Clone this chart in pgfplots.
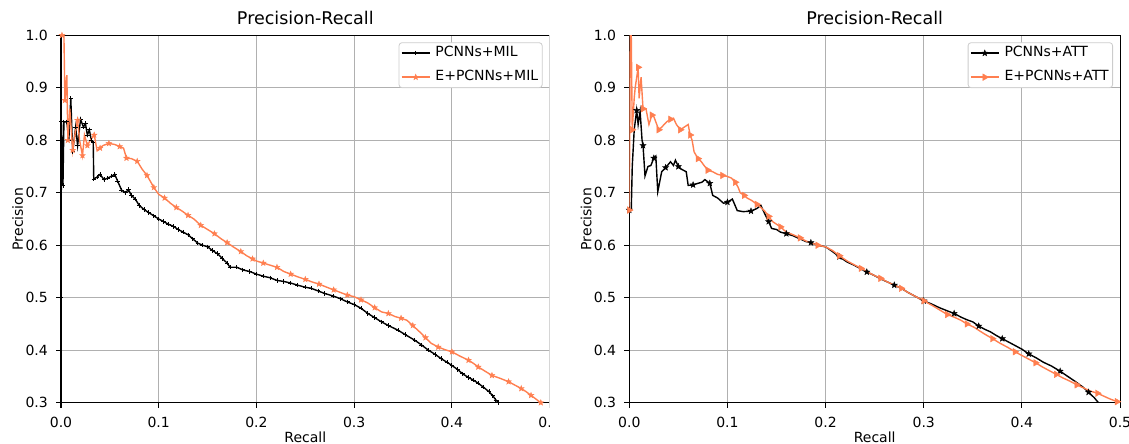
\documentclass[border=0pt]{standalone}
\usepackage{fontspec}
\setmainfont{DejaVu Sans}
\usepackage{pgfplots}
\pgfplotsset{compat=1.18}
\definecolor{coral}{RGB}{255,127,80}
\definecolor{gridc}{RGB}{176,176,176}
\pgfdeclareplotmark{fstar}{%
  \pgfpathmoveto{\pgfpointpolar{90}{\pgfplotmarksize}}%
  \pgfpathlineto{\pgfpointpolar{126}{0.42\pgfplotmarksize}}%
  \pgfpathlineto{\pgfpointpolar{162}{\pgfplotmarksize}}%
  \pgfpathlineto{\pgfpointpolar{198}{0.42\pgfplotmarksize}}%
  \pgfpathlineto{\pgfpointpolar{234}{\pgfplotmarksize}}%
  \pgfpathlineto{\pgfpointpolar{270}{0.42\pgfplotmarksize}}%
  \pgfpathlineto{\pgfpointpolar{306}{\pgfplotmarksize}}%
  \pgfpathlineto{\pgfpointpolar{342}{0.42\pgfplotmarksize}}%
  \pgfpathlineto{\pgfpointpolar{18}{\pgfplotmarksize}}%
  \pgfpathlineto{\pgfpointpolar{54}{0.42\pgfplotmarksize}}%
  \pgfpathclose
  \pgfusepathqfillstroke}

\pgfplotstableread{
r p
0.000 0.500
0.0005 0.835
0.002 0.714
0.003 0.835
0.006 0.835
0.008 0.800
0.010 0.880
0.012 0.778
0.015 0.825
0.017 0.790
0.020 0.840
0.023 0.825
0.025 0.832
0.027 0.810
0.029 0.820
0.031 0.800
0.033 0.795
0.0335 0.726
0.037 0.730
0.040 0.735
0.044 0.725
0.048 0.728
0.052 0.732
0.055 0.735
0.058 0.722
0.062 0.705
0.066 0.700
0.069 0.706
0.072 0.695
0.076 0.688
0.080 0.676
0.085 0.668
0.090 0.662
0.095 0.656
0.100 0.650
0.105 0.645
0.110 0.640
0.115 0.636
0.120 0.630
0.125 0.625
0.130 0.620
0.135 0.612
0.140 0.604
0.145 0.600
0.150 0.597
0.155 0.590
0.160 0.584
0.165 0.575
0.170 0.566
0.173 0.558
0.180 0.558
0.186 0.553
0.193 0.550
0.200 0.545
0.207 0.541
0.214 0.538
0.221 0.533
0.228 0.531
0.235 0.528
0.242 0.524
0.250 0.520
0.256 0.518
0.263 0.513
0.270 0.508
0.279 0.503
0.286 0.498
0.293 0.492
0.300 0.487
0.307 0.480
0.314 0.470
0.321 0.462
0.328 0.454
0.335 0.447
0.345 0.438
0.352 0.430
0.362 0.419
0.369 0.410
0.376 0.400
0.383 0.392
0.389 0.384
0.395 0.377
0.400 0.371
0.406 0.363
0.411 0.355
0.417 0.348
0.422 0.343
0.427 0.337
0.432 0.330
0.438 0.321
0.442 0.313
0.445 0.305
0.448 0.300
}\milbase

\pgfplotstableread{
r p
0.001 1.000
0.003 1.000
0.004 0.876
0.006 0.924
0.007 0.800
0.009 0.860
0.012 0.781
0.015 0.820
0.017 0.838
0.019 0.800
0.022 0.771
0.024 0.810
0.027 0.790
0.030 0.800
0.034 0.810
0.037 0.780
0.040 0.785
0.043 0.790
0.049 0.794
0.055 0.792
0.060 0.788
0.064 0.785
0.067 0.766
0.072 0.765
0.078 0.760
0.083 0.745
0.088 0.733
0.092 0.720
0.095 0.710
0.100 0.697
0.106 0.690
0.112 0.680
0.118 0.672
0.124 0.665
0.130 0.657
0.136 0.650
0.143 0.638
0.150 0.630
0.157 0.622
0.164 0.612
0.170 0.605
0.177 0.596
0.184 0.588
0.190 0.580
0.196 0.574
0.200 0.570
0.207 0.566
0.214 0.562
0.221 0.558
0.228 0.550
0.235 0.545
0.242 0.540
0.250 0.535
0.257 0.530
0.264 0.526
0.272 0.520
0.279 0.515
0.286 0.510
0.293 0.505
0.300 0.502
0.307 0.496
0.314 0.490
0.321 0.481
0.328 0.473
0.335 0.470
0.342 0.464
0.348 0.461
0.354 0.457
0.360 0.447
0.367 0.435
0.373 0.424
0.379 0.413
0.386 0.406
0.393 0.401
0.400 0.397
0.408 0.389
0.417 0.381
0.422 0.375
0.427 0.368
0.434 0.360
0.441 0.352
0.450 0.346
0.458 0.340
0.465 0.333
0.471 0.327
0.476 0.321
0.481 0.314
0.486 0.307
0.491 0.300
}\milext

\pgfplotstableread{
r p
0.000 0.667
0.002 0.667
0.003 0.750
0.005 0.820
0.0075 0.857
0.009 0.830
0.011 0.855
0.013 0.800
0.014 0.790
0.016 0.732
0.019 0.750
0.022 0.752
0.025 0.766
0.027 0.770
0.029 0.702
0.033 0.740
0.037 0.748
0.042 0.759
0.045 0.752
0.047 0.762
0.050 0.750
0.053 0.745
0.058 0.740
0.060 0.714
0.065 0.715
0.070 0.718
0.074 0.720
0.077 0.725
0.082 0.718
0.085 0.695
0.090 0.690
0.096 0.680
0.100 0.682
0.105 0.688
0.110 0.666
0.116 0.664
0.124 0.665
0.130 0.670
0.134 0.676
0.138 0.660
0.142 0.645
0.145 0.632
0.150 0.630
0.154 0.625
0.160 0.622
0.167 0.618
0.174 0.612
0.180 0.607
0.185 0.605
0.192 0.600
0.200 0.597
0.207 0.588
0.214 0.578
0.222 0.568
0.229 0.562
0.236 0.555
0.242 0.549
0.249 0.543
0.256 0.536
0.263 0.530
0.270 0.524
0.277 0.518
0.284 0.510
0.292 0.502
0.300 0.494
0.308 0.488
0.316 0.481
0.324 0.475
0.331 0.470
0.338 0.463
0.344 0.458
0.350 0.454
0.356 0.446
0.362 0.440
0.368 0.435
0.374 0.428
0.380 0.422
0.386 0.416
0.392 0.410
0.400 0.402
0.407 0.393
0.415 0.385
0.422 0.377
0.430 0.370
0.439 0.360
0.446 0.351
0.454 0.341
0.462 0.330
0.468 0.320
0.474 0.309
0.478 0.300
}\attbase

\pgfplotstableread{
r p
0.000 0.667
0.001 1.000
0.002 1.000
0.003 0.820
0.005 0.880
0.006 0.900
0.009 0.939
0.010 0.880
0.012 0.920
0.014 0.860
0.017 0.860
0.020 0.830
0.023 0.848
0.025 0.845
0.028 0.830
0.030 0.820
0.033 0.825
0.038 0.835
0.042 0.840
0.045 0.842
0.048 0.830
0.052 0.820
0.056 0.825
0.060 0.830
0.062 0.810
0.064 0.800
0.066 0.778
0.070 0.765
0.073 0.760
0.077 0.750
0.080 0.743
0.085 0.740
0.090 0.735
0.095 0.733
0.100 0.731
0.104 0.728
0.108 0.720
0.111 0.710
0.113 0.700
0.117 0.695
0.120 0.690
0.125 0.685
0.130 0.678
0.134 0.672
0.138 0.665
0.142 0.655
0.146 0.645
0.150 0.640
0.154 0.635
0.160 0.625
0.167 0.620
0.174 0.614
0.180 0.608
0.185 0.605
0.192 0.600
0.200 0.597
0.207 0.590
0.214 0.580
0.222 0.570
0.229 0.563
0.236 0.556
0.242 0.550
0.249 0.543
0.256 0.537
0.263 0.530
0.270 0.524
0.277 0.518
0.284 0.510
0.292 0.502
0.300 0.494
0.308 0.486
0.316 0.477
0.324 0.468
0.331 0.463
0.338 0.457
0.344 0.450
0.351 0.444
0.361 0.432
0.370 0.422
0.378 0.413
0.386 0.405
0.393 0.397
0.400 0.390
0.407 0.383
0.414 0.376
0.421 0.368
0.428 0.361
0.435 0.354
0.442 0.347
0.449 0.341
0.456 0.334
0.463 0.328
0.470 0.322
0.477 0.318
0.484 0.312
0.490 0.307
0.497 0.302
0.500 0.300
}\attext

\pgfplotsset{
  prstyle/.style={
    scale only axis, height=367.4pt,
    xmin=0, xmax=0.5, ymin=0.3, ymax=1.0,
    xtick={0,0.1,0.2,0.3,0.4,0.5}, xticklabels={0.0,0.1,0.2,0.3,0.4,0.5},
    ytick={0.3,0.4,0.5,0.6,0.7,0.8,0.9,1.0}, yticklabels={0.3,0.4,0.5,0.6,0.7,0.8,0.9,1.0},
    grid=major, major grid style={gridc, line width=1pt},
    axis line style={black, line width=1pt},
    tick style={black, line width=1pt}, tick align=outside, major tick length=5pt,
    xtick pos=bottom, ytick pos=left,
    ticklabel style={font=\fontsize{14}{16}\selectfont, inner sep=0pt},
    xticklabel style={anchor=base, yshift=-20pt},
    yticklabel style={anchor=east, xshift=-8pt},
    every axis title/.style={at={(axis description cs:0.5,1)}, anchor=base, yshift=11pt, inner sep=0pt, font=\fontsize{17.5}{20}\selectfont},
    every axis x label/.style={at={(axis description cs:0.5,0)}, anchor=base, yshift=-40pt, inner sep=0pt, font=\fontsize{14}{16}\selectfont},
    every axis y label/.style={at={(axis description cs:0,0.5)}, xshift=-38pt, rotate=90, anchor=base, inner sep=0pt, font=\fontsize{14}{16}\selectfont},
    legend cell align=left,
    legend image code/.code={\draw[mark repeat=2,mark phase=2,##1] plot coordinates {(0pt,0pt) (14pt,0pt) (28pt,0pt)};},
    legend style={at={(axis description cs:1,1)}, anchor=north east, xshift=-7pt, yshift=-7pt,
      draw={rgb,255:red,204;green,204;blue,204}, line width=0.8pt, rounded corners=3pt,
      fill=white, inner xsep=2pt, inner ysep=2pt, row sep=7pt, column sep=3pt,
      font=\fontsize{14}{16}\selectfont,
      nodes={text height=10pt, text depth=3pt, inner sep=2pt}},
    title={Precision-Recall}, xlabel={Recall}, ylabel={Precision},
  }
}

\begin{document}
\begin{tikzpicture}
\useasboundingbox (0,0) rectangle (1129pt,444pt);
\begin{scope}
\clip (0,0) rectangle (549pt,444pt);
\begin{axis}[prstyle, at={(61pt,41.3pt)}, anchor=south west, width=488.6pt]
\addplot[black, line width=1.4pt, mark=+, mark size=2.2pt, mark repeat=1, mark options={line width=0.9pt}] table[x=r,y=p] {\milbase};
\addlegendentry{PCNNs+MIL}
\addplot[coral, line width=1.4pt, mark=fstar, mark size=3pt, mark repeat=2, mark options={line width=0.4pt}] table[x=r,y=p] {\milext};
\addlegendentry{E+PCNNs+MIL}
\end{axis}
\end{scope}
\begin{axis}[prstyle, at={(629.3pt,41.3pt)}, anchor=south west, width=490.7pt]
\addplot[black, line width=1.4pt, mark=fstar, mark size=3.2pt, mark repeat=4, mark options={line width=0.4pt}] table[x=r,y=p] {\attbase};
\addlegendentry{PCNNs+ATT}
\addplot[coral, line width=1.4pt, mark=triangle*, mark size=3.8pt, mark repeat=3, mark options={rotate=-90, line width=0.4pt}] table[x=r,y=p] {\attext};
\addlegendentry{E+PCNNs+ATT}
\end{axis}
\end{tikzpicture}
\end{document}
